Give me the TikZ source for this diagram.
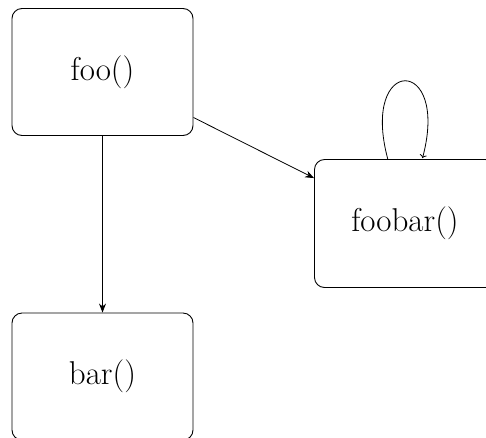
\documentclass[tikz,border=0pt]{standalone}
\usetikzlibrary{arrows.meta}
\begin{document}
\begin{tikzpicture}[x=1pt,y=-1pt,
  fn/.style={draw, rounded corners=10pt, minimum width=181pt, minimum height=127pt,
    line width=0.9pt, font=\fontsize{33}{40}\selectfont, inner sep=0pt},
  conn/.style={line width=0.8pt, -{Stealth[length=9pt,width=7pt]}},
  loopconn/.style={line width=0.8pt, -{To[length=6pt,width=10pt]}}]
\useasboundingbox (0,0) rectangle (486,437);
\clip (0,0) rectangle (486,437);
\node[fn] (foo) at (102.5,72) {foo()};
\node[fn] (bar) at (102.5,376.5) {bar()};
\node[fn, minimum height=128pt] (foobar) at (405,223.5) {foobar()};
\draw[conn] (foo) -- (bar);
\draw[conn] (foo) -- (foobar);
\draw[loopconn] (foobar) edge[loop above] (foobar);
\end{tikzpicture}
\end{document}
